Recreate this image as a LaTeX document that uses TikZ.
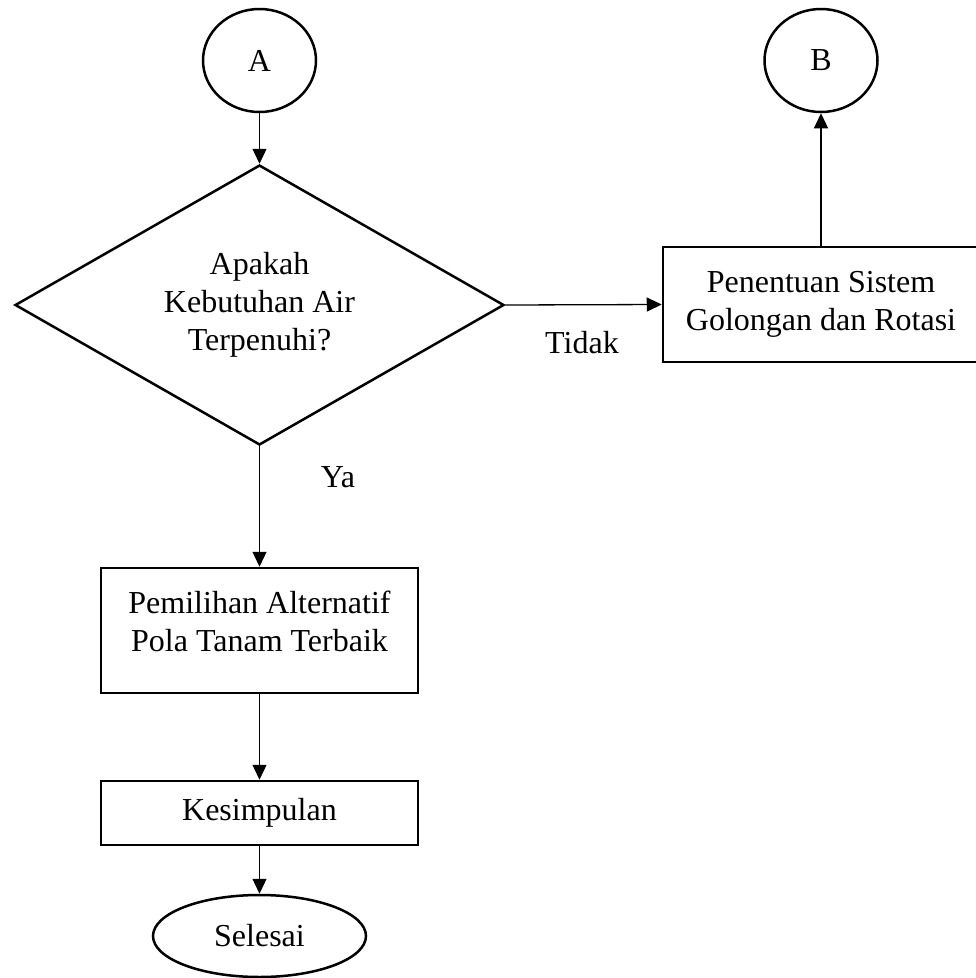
\documentclass[tikz,border=0pt]{standalone}
\usepackage{fontspec}
\setmainfont{Liberation Serif}
\usetikzlibrary{shapes.geometric,arrows.meta}
\tikzset{
  every node/.style={font=\fontsize{32}{38}\selectfont},
  terminal/.style={draw,ellipse,line width=2.5pt,inner sep=0pt},
  decision/.style={draw,diamond,line width=2.5pt,inner sep=0pt,aspect=1.75,align=center},
  process/.style={draw,rectangle,line width=2.5pt,inner sep=0pt,align=center},
  flow/.style={line width=1.3pt,-{Triangle[length=15pt,width=14pt]}}
}
\begin{document}
\begin{tikzpicture}[x=1pt,y=1pt,yscale=-1,xscale=1]
\useasboundingbox (0,0) rectangle (976,978);

% Terminal Nodes
\node [terminal, minimum width=113pt, minimum height=103pt] (conA) at (259.5,60.5) {A};
\node [terminal, minimum width=113pt, minimum height=103pt] (conB) at (821,60.5) {B};
% Decision
\node [decision, minimum width=489pt, minimum height=280pt] (cekAir) at (259.5,305) {Apakah\\Kebutuhan Air\\Terpenuhi?};
% Process Boxes
\node [process, minimum width=316pt, minimum height=115pt] (sistemGol) at (821,304.5) {Penentuan Sistem\\Golongan dan Rotasi};
\node [process, minimum width=317pt, minimum height=125pt] (pilihPola) at (259.5,630.5) {Pemilihan Alternatif\\Pola Tanam Terbaik\\[-20pt]};
\node [process, minimum width=317pt, minimum height=64pt] (simpul) at (259.5,813) {Kesimpulan};
\node [terminal, minimum width=213pt, minimum height=82pt] (selesai) at (259.5,936) {Selesai};

% Text Node
\node (lblTidak) at (582,343) {Tidak};
% Text Node
\node (lblYa) at (338,477) {Ya};

%Straight Lines
\draw [flow] (conA) -- (cekAir.north);
\draw [flow] (cekAir.east) -- (sistemGol.west);
\draw [flow] (sistemGol.north) -- (conB.south);
\draw [flow] (cekAir.south) -- (pilihPola.north);
\draw [flow] (pilihPola.south) -- (simpul.north);
\draw [flow] (simpul.south) -- (selesai.north);
\end{tikzpicture}
\end{document}
